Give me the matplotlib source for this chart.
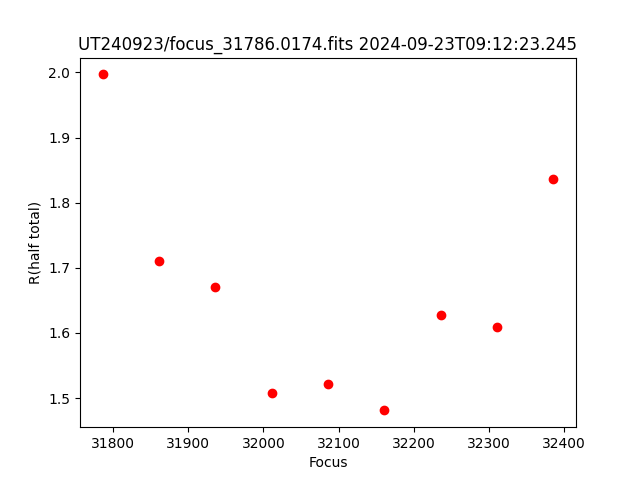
import matplotlib
matplotlib.use("Agg")
import matplotlib.pyplot as plt

focus = [31786, 31861, 31936, 32011, 32086, 32161, 32236, 32311, 32386]
r_half = [1.997, 1.710, 1.670, 1.508, 1.521, 1.481, 1.627, 1.609, 1.837]

fig = plt.figure(figsize=(6.4, 4.8), dpi=100)
plt.plot(focus, r_half, "ro")
plt.title("UT240923/focus_31786.0174.fits 2024-09-23T09:12:23.245")
plt.xlabel("Focus")
plt.ylabel("R(half total)")
plt.savefig("out.png")
